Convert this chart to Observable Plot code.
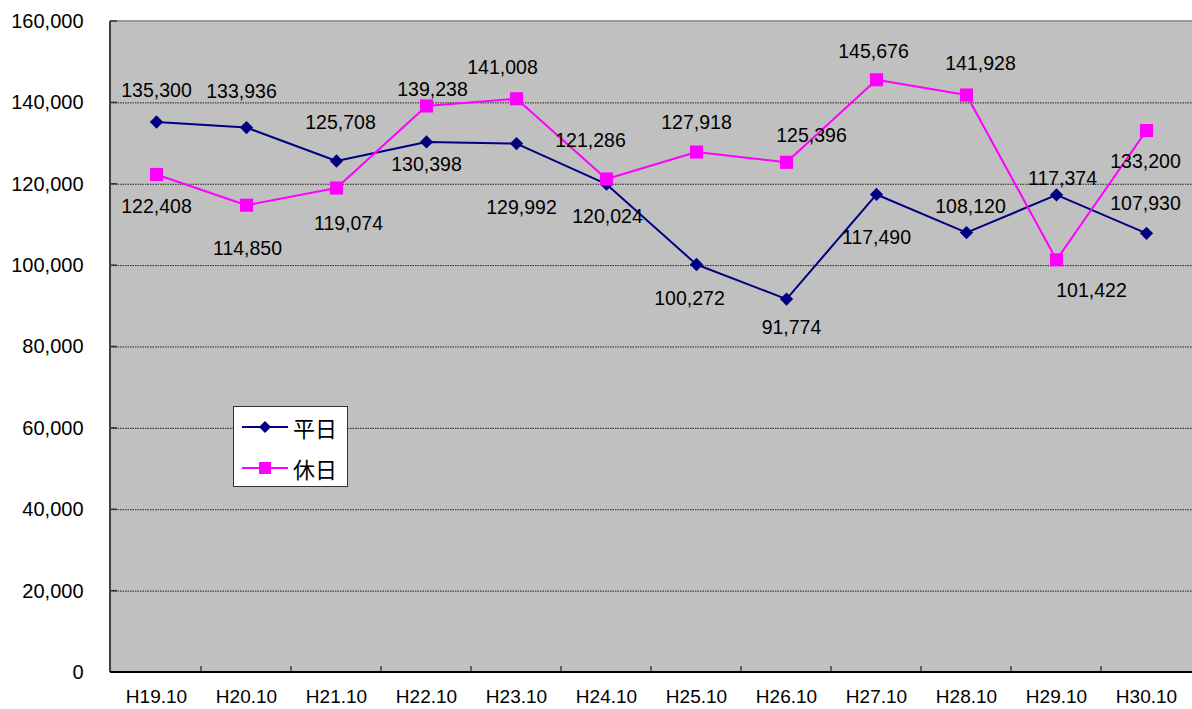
<!DOCTYPE html>
<html>
<head>
<meta charset="utf-8">
<script src="https://cdn.jsdelivr.net/npm/d3@7"></script>
<script src="https://cdn.jsdelivr.net/npm/@observablehq/plot@0.6"></script>
<style>
  html, body { margin: 0; padding: 0; background: #fff; }
  #wrap { position: relative; width: 1192px; height: 709px; font-family: "Liberation Sans", Arial, "Noto Sans CJK JP", sans-serif; }
  #legend { position: absolute; left: 233px; top: 406px; width: 115px; height: 81px; background: #fff; border: 1px solid #333; box-sizing: border-box; }
  .item { position: absolute; left: 8px; height: 26px; display: flex; align-items: center; }
  .item span { font-family: "Noto Sans CJK JP", sans-serif; font-size: 22px; margin-left: 5px; line-height: 26px; }
</style>
</head>
<body>
<div id="wrap">
  <div id="chart"></div>
  <div id="legend">
    <div class="item" style="top:7px">
      <svg width="46" height="26"><line x1="0" y1="13" x2="46" y2="13" stroke="#000080" stroke-width="2"/><path d="M23,7 L29,13 L23,19 L17,13 Z" fill="#000080"/></svg><span>平日</span>
    </div>
    <div class="item" style="top:48px">
      <svg width="46" height="26"><line x1="0" y1="13" x2="46" y2="13" stroke="#ff00ff" stroke-width="2"/><rect x="17" y="7" width="12" height="12" fill="#ff00ff"/></svg><span>休日</span>
    </div>
  </div>
</div>
<script>
// ---- data ----
const categories = ["H19.10","H20.10","H21.10","H22.10","H23.10","H24.10","H25.10","H26.10","H27.10","H28.10","H29.10","H30.10"];
const weekday = [135300, 133936, 125708, 130398, 129992, 120024, 100272, 91774, 117490, 108120, 117374, 107930];
const holiday = [122408, 114850, 119074, 139238, 141008, 121286, 127918, 125396, 145676, 141928, 101422, 133200];
const yTicks = [0, 20000, 40000, 60000, 80000, 100000, 120000, 140000, 160000];

// label placement offsets (pixels), kept apart from data
const weekdayDx = [0, -5, 4, 0, 5, 1, -7, 5, 0, 4, 6, -1];
const weekdayDy = [-31, -36, -38, 23, 64, 33, 34, 29, 43, -26, -16, -30];
const holidayDx = [0, 1, 12, 6, -14, -16, 0, 25, -3, 14, 35, -1];
const holidayDy = [32, 44, 36, -16, -31, -38, -29, -27, -28, -31, 31, 31];

const rows = categories.map((c, i) => ({cat: c, weekday: weekday[i], holiday: holiday[i]}));
const fmt = d3.format(",");

const axisDecor = (index, scales, values, dims) => {
  const g = d3.create("svg:g");
  const x0 = scales.x(categories[0]);
  const step = scales.x(categories[1]) - x0;
  const yb = dims.height - dims.marginBottom;
  const left = dims.marginLeft;
  g.append("line").attr("x1", left).attr("x2", dims.width).attr("y1", scales.y(160000)).attr("y2", scales.y(160000))
    .attr("stroke", "#808080").attr("stroke-width", 1.5);
  for (let i = 1; i < categories.length; i++) {
    const xx = x0 - step / 2 + i * step;
    g.append("line").attr("x1", xx).attr("x2", xx).attr("y1", yb).attr("y2", yb - 6).attr("stroke", "#000").attr("stroke-width", 1);
  }
  for (const t of yTicks) {
    const yy = scales.y(t);
    g.append("line").attr("x1", left).attr("x2", left + 7).attr("y1", yy).attr("y2", yy).attr("stroke", "#333").attr("stroke-width", 1.5);
  }
  g.append("line").attr("x1", left).attr("x2", left).attr("y1", scales.y(160000)).attr("y2", yb).attr("stroke", "#404040").attr("stroke-width", 2);
  g.append("line").attr("x1", left).attr("x2", dims.width).attr("y1", yb).attr("y2", yb).attr("stroke", "#000").attr("stroke-width", 2);
  return g.node();
};

const labelMarks = (key, values, dxs, dys) => values.map((v, i) =>
  Plot.text([rows[i]], {x: "cat", y: key, text: d => fmt(d[key]), dx: dxs[i], dy: dys[i], fontSize: 19.5, fill: "#000"})
);

const chart = Plot.plot({
  width: 1192,
  height: 709,
  marginLeft: 110,
  marginRight: 0,
  marginTop: 21,
  marginBottom: 37,
  style: {fontFamily: '"Liberation Sans", Arial, sans-serif', background: "#fff", color: "#000"},
  x: {type: "point", domain: categories, padding: 0.5},
  y: {domain: [0, 160000]},
  marks: [
    Plot.frame({fill: "#c0c0c0", stroke: null}),
    Plot.gridY(yTicks.filter(t => t > 0 && t < 160000), {stroke: "#222", strokeOpacity: 1, strokeDasharray: "1.5,1", strokeWidth: 1}),
    Plot.axisY({ticks: yTicks, tickFormat: fmt, tickSize: 0, tickPadding: 27, fontSize: 20, label: null}),
    Plot.axisX({tickSize: 0, tickPadding: 17, fontSize: 19, label: null}),
    axisDecor,
    Plot.line(rows, {x: "cat", y: "weekday", stroke: "#000080", strokeWidth: 2}),
    Plot.dot(rows, {x: "cat", y: "weekday", symbol: "diamond2", r: 6, fill: "#000080", stroke: null}),
    Plot.line(rows, {x: "cat", y: "holiday", stroke: "#ff00ff", strokeWidth: 2}),
    Plot.dot(rows, {x: "cat", y: "holiday", symbol: "square", r: 7.4, fill: "#ff00ff", stroke: null}),
    ...labelMarks("weekday", weekday, weekdayDx, weekdayDy),
    ...labelMarks("holiday", holiday, holidayDx, holidayDy)
  ]
});
document.getElementById("chart").appendChild(chart);
</script>
</body>
</html>
